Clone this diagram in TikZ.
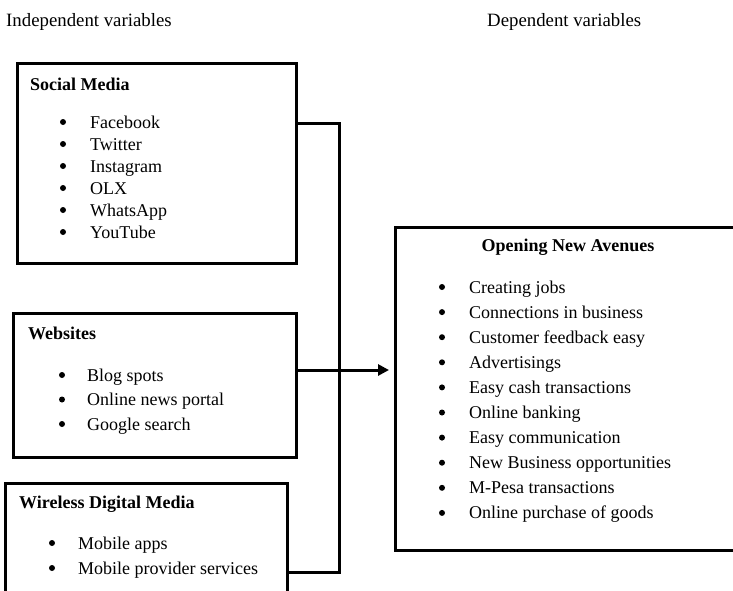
\documentclass[tikz,border=0pt]{standalone}
\usepackage{fontspec}
\setmainfont{Liberation Serif}
\usetikzlibrary{arrows.meta}
\begin{document}
\begin{tikzpicture}[x=1pt,y=-1pt,
  boxnode/.style={draw, line width=3pt, inner sep=0pt, outer sep=0pt, anchor=north west},
  txt/.style={anchor=base west, inner sep=0pt, font=\fontsize{18}{21}\selectfont},
  bul/.style={circle, fill, inner sep=0pt, minimum size=6pt},
  hdr/.style={anchor=base west, inner sep=0pt, font=\fontsize{18}{21}\selectfont\bfseries},
  conn/.style={line width=3pt, line join=miter}]
\useasboundingbox (0,0) rectangle (733,590);

% top labels
\node[txt, font=\fontsize{18.8}{22}\selectfont] (indep) at (6,26) {Independent variables};
\node[txt, font=\fontsize{18.8}{22}\selectfont] (dep) at (487,26) {Dependent variables};

% boxes
\node[boxnode, minimum width=279pt, minimum height=200pt] (sm) at (17,63) {};
\node[boxnode, minimum width=283pt, minimum height=144pt] (ws) at (13,313) {};
\node[boxnode, minimum width=282pt, minimum height=160pt] (wd) at (5,483) {};
\node[boxnode, minimum width=400pt, minimum height=323pt] (ona) at (395,227) {};

% Social Media
\node[hdr] (smt) at (30,90) {Social Media};
\foreach \t [count=\i] in {Facebook,Twitter,Instagram,OLX,WhatsApp,YouTube}{
  \node[bul] (smb\i) at (63,{122+22*(\i-1)}) {};
  \node[txt] (sm\i) at (90,{128+22*(\i-1)}) {\t};
}

% Websites
\node[hdr] (wst) at (28,339) {Websites};
\foreach \t [count=\i] in {Blog spots,Online news portal,Google search}{
  \node[bul] (wsb\i) at (62,{375+24.5*(\i-1)}) {};
  \node[txt] (ws\i) at (87,{381+24.5*(\i-1)}) {\t};
}

% Wireless Digital Media
\node[hdr] (wdt) at (19,508) {Wireless Digital Media};
\foreach \t [count=\i] in {Mobile apps,Mobile provider services}{
  \node[bul] (wdb\i) at (52,{543+25*(\i-1)}) {};
  \node[txt] (wd\i) at (78,{549+25*(\i-1)}) {\t};
}

% Opening New Avenues
\node[hdr, anchor=base] (onat) at (568,251) {Opening New Avenues};
\foreach \t [count=\i] in {Creating jobs,Connections in business,Customer feedback easy,Advertisings,Easy cash transactions,Online banking,Easy communication,New Business opportunities,M-Pesa transactions,Online purchase of goods}{
  \node[bul] (onb\i) at (442,{287+25.1*(\i-1)}) {};
  \node[txt] (on\i) at (469,{293+25.1*(\i-1)}) {\t};
}

% connectors
\coordinate (bt) at (339,123);
\coordinate (bb) at (339,572);
\coordinate (arr) at (389,370);
\draw[conn] (sm.east |- bt) -- (bt) -- (bb) -- (wd.east |- bb);
\draw[conn, -{Triangle[length=11pt,width=11pt]}] (ws.east |- arr) -- (arr);
\end{tikzpicture}
\end{document}
